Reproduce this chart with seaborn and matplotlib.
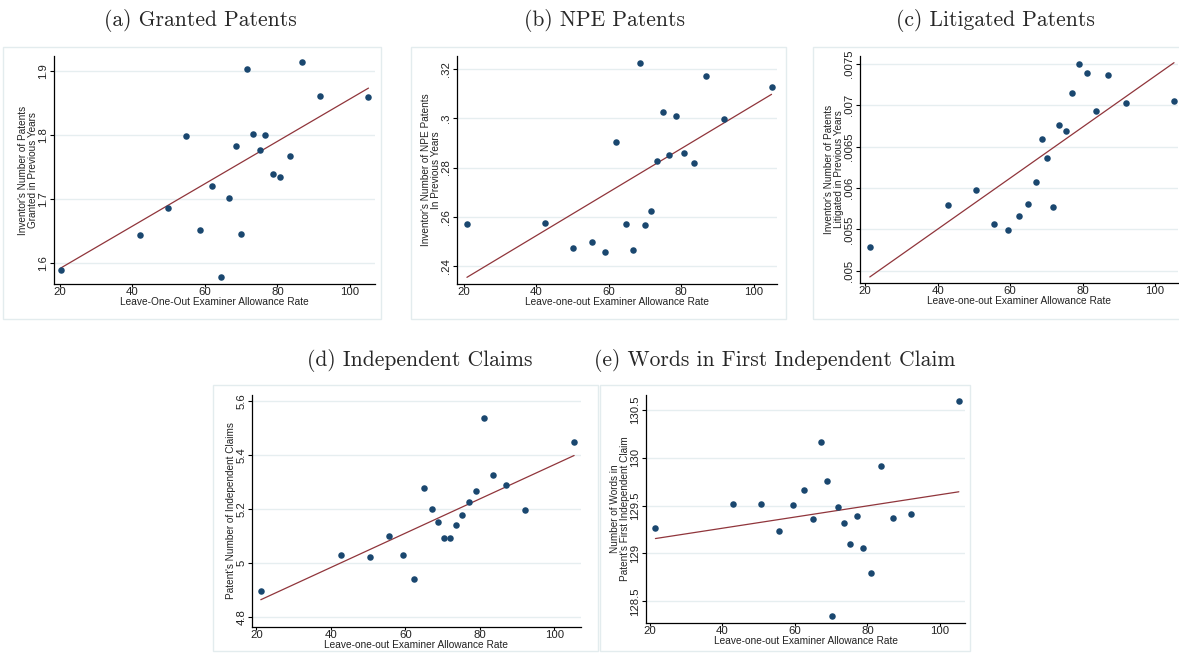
import numpy as np
import pandas as pd
import seaborn as sns
import matplotlib
matplotlib.use("Agg")
import matplotlib.pyplot as plt
from matplotlib.patches import Rectangle

# ---------------- data ----------------
allow_a = [20.3, 42.0, 49.9, 54.9, 58.7, 61.9, 64.4, 66.6, 68.6, 70.0, 71.7, 73.3, 75.1, 76.7, 78.7, 80.8, 83.4, 86.8, 91.8, 105.1]
granted = [1.590, 1.645, 1.687, 1.798, 1.652, 1.720, 1.579, 1.702, 1.783, 1.646, 1.903, 1.802, 1.777, 1.800, 1.739, 1.735, 1.767, 1.913, 1.861, 1.859]
fit_a = [1.593, 1.873]

allow_b = [20.9, 42.4, 50.25, 55.3, 59.1, 62.1, 64.7, 66.8, 68.6, 70.0, 71.7, 73.3, 75.0, 76.7, 78.6, 80.8, 83.4, 86.7, 91.7, 104.9]
npe = [.2571, .2574, .2473, .2497, .2459, .2905, .2571, .2465, .3224, .2566, .2626, .2826, .3024, .2851, .3007, .2859, .2818, .3170, .2995, .3125]
fit_b = [.2356, .3096]

allow_c = [21.3, 42.8, 50.5, 55.6, 59.4, 62.4, 65.0, 67.1, 68.9, 70.3, 71.9, 73.6, 75.3, 77.0, 78.9, 81.1, 83.6, 86.9, 92.0, 105.2]
litigated = [.00529, .005797, .005971, .005560, .005491, .005660, .005809, .006075, .006594, .006361, .005769, .006767, .006687, .007150, .007496, .007387, .006928, .007363, .007025, .007057]
fit_c = [.004924, .007516]

allow_d = [21.2, 42.8, 50.5, 55.5, 59.3, 62.4, 64.95, 67.1, 68.9, 70.3, 72.0, 73.6, 75.3, 77.0, 78.9, 81.05, 83.6, 87.0, 92.0, 105.3]
claims = [4.896, 5.031, 5.024, 5.099, 5.031, 4.942, 5.279, 5.201, 5.152, 5.092, 5.094, 5.140, 5.178, 5.225, 5.266, 5.537, 5.326, 5.290, 5.197, 5.447]
fit_d = [4.864, 5.398]

allow_e = [21.5, 42.9, 50.6, 55.5, 59.4, 62.5, 65.0, 67.2, 68.9, 70.3, 72.0, 73.6, 75.3, 77.0, 78.8, 81.1, 83.6, 86.9, 91.9, 105.2]
words = [129.271, 129.516, 129.520, 129.233, 129.509, 129.663, 129.356, 130.168, 129.753, 128.343, 129.481, 129.314, 129.101, 129.387, 129.052, 128.800, 129.911, 129.366, 129.415, 130.591]
fit_e = [129.156, 129.645]

x_ticks = [20, 40, 60, 80, 100]
x_ticklabels = ["20", "40", "60", "80", "100"]

yt_a = [1.6, 1.7, 1.8, 1.9]
ytl_a = ["1.6", "1.7", "1.8", "1.9"]
yt_b = [.24, .26, .28, .30, .32]
ytl_b = [".24", ".26", ".28", ".3", ".32"]
yt_c = [.005, .0055, .006, .0065, .007, .0075]
ytl_c = [".005", ".0055", ".006", ".0065", ".007", ".0075"]
yt_d = [4.8, 5.0, 5.2, 5.4, 5.6]
ytl_d = ["4.8", "5", "5.2", "5.4", "5.6"]
yt_e = [128.5, 129.0, 129.5, 130.0, 130.5]
ytl_e = ["128.5", "129", "129.5", "130", "130.5"]

titles = ["(a) Granted Patents", "(b) NPE Patents", "(c) Litigated Patents",
          "(d) Independent Claims", "(e) Words in First Independent Claim"]
ylabels = ["Inventor's Number of Patents\nGranted in Previous Years",
           "Inventor's Number of NPE Patents\nIn Previous Years",
           "Inventor's Number of Patents\nLitigated in Previous Years",
           "Patent's Number of Independent Claims",
           "Number of Words in\nPatent's First Independent Claim"]
xlabels = ["Leave-One-Out Examiner Allowance Rate"] + ["Leave-one-out Examiner Allowance Rate"] * 4

# ---------------- style ----------------
sns.set_theme(style="white")
plt.rcParams['font.family'] = ['Liberation Sans', 'DejaVu Sans']

W, H = 1179, 654
fig = plt.figure(figsize=(W / 100, H / 100), dpi=100)

DOT = "#1a476f"
LINE = "#90353b"
GRID = "#e6eef0"
FRAME = "#e3ecee"

def px_axes(l, t, r, b):
    return fig.add_axes([l / W, 1 - b / H, (r - l) / W, (b - t) / H])

def frame(l, t, r, b):
    fig.patches.append(Rectangle((l / W, 1 - b / H), (r - l) / W, (b - t) / H,
                                 transform=fig.transFigure, fill=False,
                                 edgecolor=FRAME, linewidth=1.0))

panels = [
    dict(ax=(54, 56, 375, 284), fr=(3, 47, 381, 319), x=allow_a, y=granted, fit=fit_a,
         yt=yt_a, ytl=ytl_a, xlim=(18.4, 106.9), ylim=(1.568, 1.923), title_xy=(200, 20)),
    dict(ax=(457, 56, 777, 284), fr=(411, 47, 786, 319), x=allow_b, y=npe, fit=fit_b,
         yt=yt_b, ytl=ytl_b, xlim=(18.16, 106.4), ylim=(.2329, .3251), title_xy=(605, 20)),
    dict(ax=(860, 56, 1178, 283), fr=(813, 47, 1182, 319), x=allow_c, y=litigated, fit=fit_c,
         yt=yt_c, ytl=ytl_c, xlim=(18.6, 106.3), ylim=(.004851, .007597), title_xy=(995, 20)),
    dict(ax=(252, 395, 581, 627), fr=(213, 385, 598, 651), x=allow_d, y=claims, fit=fit_d,
         yt=yt_d, ytl=ytl_d, xlim=(18.84, 107.15), ylim=(4.763, 5.622), title_xy=(420, 360)),
    dict(ax=(646, 395, 965, 623), fr=(600, 385, 970, 651), x=allow_e, y=words, fit=fit_e,
         yt=yt_e, ytl=ytl_e, xlim=(18.9, 106.9), ylim=(128.273, 130.657), title_xy=(775, 360)),
]

for i, p in enumerate(panels):
    frame(*p["fr"])
    ax = px_axes(*p["ax"])
    df = pd.DataFrame({"x": p["x"], "y": p["y"]})
    for yv in p["yt"]:
        ax.axhline(yv, color=GRID, lw=1.0, zorder=0)
    fx = [min(p["x"]), max(p["x"])]
    sns.lineplot(x=fx, y=p["fit"], ax=ax, color=LINE, lw=0.9, zorder=2)
    sns.scatterplot(data=df, x="x", y="y", ax=ax, color=DOT, s=22, edgecolor=DOT,
                    linewidth=0, zorder=3)
    ax.set_xlim(*p["xlim"])
    ax.set_ylim(*p["ylim"])
    ax.set_xticks(x_ticks)
    ax.set_xticklabels(x_ticklabels, fontsize=8.2)
    ax.set_yticks(p["yt"])
    ax.set_yticklabels(p["ytl"], fontsize=8.2, rotation=90, va="center")
    ax.tick_params(axis="both", direction="out", width=0.8, color="black",
                   bottom=True, left=True, labelcolor="#222222")
    ax.tick_params(axis="x", length=2.5, pad=0)
    ax.tick_params(axis="y", length=3, pad=1)
    for s in ["top", "right"]:
        ax.spines[s].set_visible(False)
    for s in ["left", "bottom"]:
        ax.spines[s].set_color("black")
        ax.spines[s].set_linewidth(0.9)
    ax.set_xlabel(xlabels[i], fontsize=7.3, labelpad=-0.5, color="#222222")
    ax.set_ylabel(ylabels[i], fontsize=7.2, labelpad=0.5, color="#222222", linespacing=1.0)
    ax.set_facecolor("white")
    tx, ty = p["title_xy"]
    fig.text(tx / W, 1 - ty / H, titles[i], fontsize=15.5, fontfamily="cmr10",
             ha="center", va="center")

fig.savefig("out.png", dpi=100)
